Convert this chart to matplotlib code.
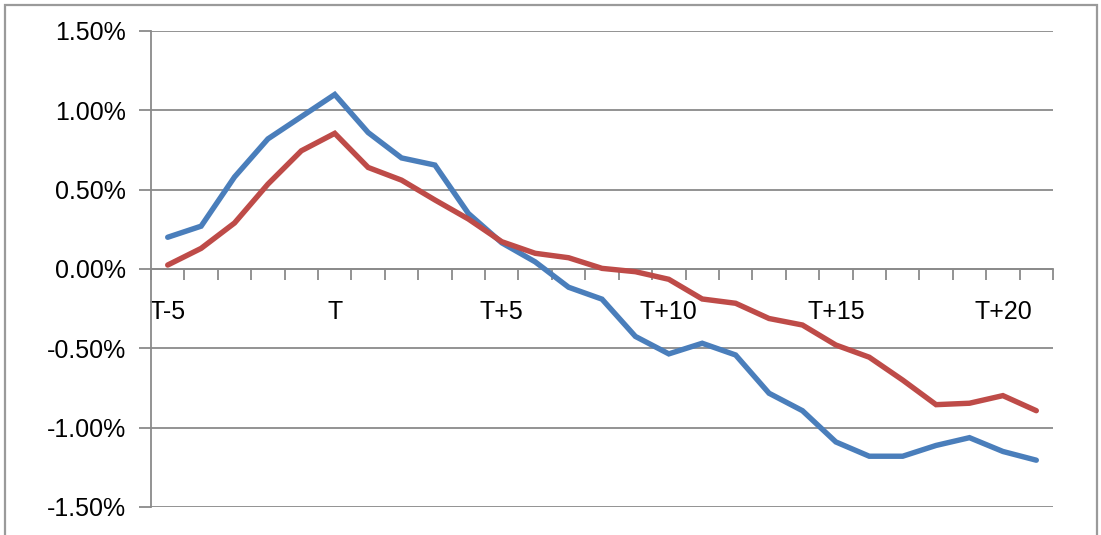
import matplotlib
matplotlib.use("Agg")
import matplotlib.pyplot as plt
from matplotlib import patches
from matplotlib.ticker import FuncFormatter, FixedLocator

# event window T-5 ... T+21
days = list(range(-5, 22))
day_labels = ["T-5", "T", "T+5", "T+10", "T+15", "T+20"]

# cumulative abnormal returns, in percent
blue_car = [0.20, 0.27, 0.58, 0.82, 0.96, 1.10, 0.86, 0.70, 0.655, 0.35,
            0.165, 0.045, -0.115, -0.19, -0.425, -0.535, -0.468, -0.542, -0.783, -0.893,
            -1.09, -1.18, -1.18, -1.112, -1.063, -1.15, -1.205]
red_car = [0.025, 0.13, 0.29, 0.535, 0.745, 0.855, 0.64, 0.56, 0.435, 0.315,
           0.172, 0.099, 0.071, 0.004, -0.017, -0.065, -0.189, -0.216, -0.312, -0.353,
           -0.479, -0.556, -0.70, -0.855, -0.846, -0.798, -0.893]

GRAY = "#8a8a8a"
BLUE = "#4a7ebb"
RED = "#be4b48"

plt.rcParams["font.family"] = ["Liberation Sans", "DejaVu Sans"]

fig = plt.figure(figsize=(11.01, 5.35), dpi=100)
ax = fig.add_axes([151 / 1101, 1 - 507 / 535, (1053 - 151) / 1101, (507 - 31) / 535])

x = list(range(len(days)))
ax.plot(x, blue_car, color=BLUE, lw=3.9, solid_capstyle="round", solid_joinstyle="miter", zorder=3)
ax.plot(x, red_car, color=RED, lw=3.9, solid_capstyle="round", solid_joinstyle="miter", zorder=3)

ax.set_xlim(-0.5, len(days) - 0.5)
ax.set_ylim(-1.5, 1.5)

# horizontal gridlines
ax.set_yticks([-1.5, -1.0, -0.5, 0.0, 0.5, 1.0, 1.5])
ax.yaxis.set_major_formatter(FuncFormatter(lambda v, p: "%.2f%%" % v))
ax.grid(axis="y", color=GRAY, lw=1.3)
ax.set_axisbelow(True)
ax.tick_params(axis="y", length=9, width=1.3, color=GRAY, pad=9, labelsize=18)

# category boundaries get tick marks, every fifth day gets a label
ax.xaxis.set_major_locator(FixedLocator([i - 0.5 for i in range(len(days) + 1)]))
ax.xaxis.set_major_formatter(FuncFormatter(lambda v, p: ""))
label_pos = [days.index(d) for d in (-5, 0, 5, 10, 15, 20)]
ax.xaxis.set_minor_locator(FixedLocator(label_pos))
ax.set_xticklabels(day_labels, minor=True)
ax.tick_params(axis="x", which="major", length=8, width=1.3, color=GRAY, direction="out")
ax.tick_params(axis="x", which="minor", length=0, pad=22, labelsize=18)

for side in ("top", "right"):
    ax.spines[side].set_visible(False)
ax.spines["bottom"].set_position(("data", 0))
ax.spines["bottom"].set_color(GRAY)
ax.spines["bottom"].set_linewidth(1.3)
ax.spines["left"].set_color(GRAY)
ax.spines["left"].set_linewidth(1.3)

# chart area frame
frame = patches.Rectangle((4.5 / 1101, -0.05), (1097 - 4.5) / 1101, 1.05 - 4.5 / 535,
                          transform=fig.transFigure, fill=False, edgecolor="#9a9a9a", lw=1.6)
fig.patches.append(frame)

fig.savefig("out.png", dpi=100)
